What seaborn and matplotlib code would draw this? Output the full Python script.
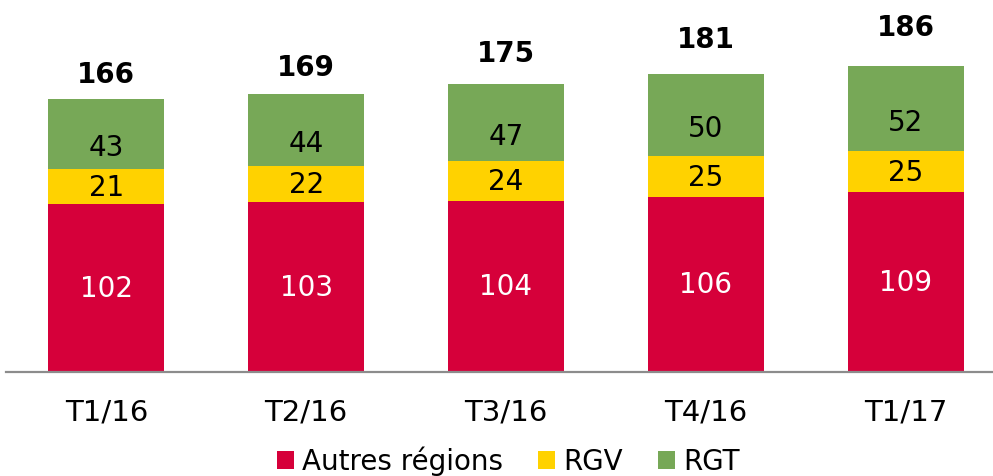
import matplotlib
matplotlib.use("Agg")
import matplotlib.pyplot as plt
from matplotlib.patches import Patch
import seaborn as sns
import pandas as pd
import numpy as np

categories = ["T1/16", "T2/16", "T3/16", "T4/16", "T1/17"]
autres = [102, 103, 104, 106, 109]
rgv = [21, 22, 24, 25, 25]
rgt = [43, 44, 47, 50, 52]
totals = [166, 169, 175, 181, 186]
series_names = ["Autres régions", "RGV", "RGT"]

C_RED = "#D6003A"
C_YEL = "#FFD200"
C_GRN = "#77A857"

sns.set_theme(style="white")
plt.rcParams["font.family"] = ["DejaVu Sans"]
plt.rcParams["text.color"] = "black"

df = pd.DataFrame({"cat": categories, "a": autres, "v": rgv, "t": rgt})
df["cum_v"] = df["a"] + df["v"]
df["cum_t"] = df["cum_v"] + df["t"]

fig = plt.figure(figsize=(9.93, 4.77), dpi=100)
H = 477.0
base = 372.5
ax = fig.add_axes([6.4 / 993, (H - base) / H, (1005.6 - 6.4) / 993, base / H])

bw = 0.58
sns.barplot(data=df, x="cat", y="cum_t", color=C_GRN, width=bw, ax=ax, saturation=1, linewidth=0, errorbar=None)
sns.barplot(data=df, x="cat", y="cum_v", color=C_YEL, width=bw, ax=ax, saturation=1, linewidth=0, errorbar=None)
sns.barplot(data=df, x="cat", y="a", color=C_RED, width=bw, ax=ax, saturation=1, linewidth=0, errorbar=None)

ax.set_xlim(-0.5, 4.5)
ax.set_ylim(0, base / 1.643)
ax.set_xlabel("")
ax.set_ylabel("")
ax.set_yticks([])
for s in ["top", "left", "right"]:
    ax.spines[s].set_visible(False)
ax.spines["bottom"].set_color("#8C8C8C")
ax.spines["bottom"].set_linewidth(1.6)
ax.tick_params(axis="x", length=0, pad=18.5, labelsize=21, labelcolor="black")

for i in range(len(categories)):
    a, v, t, tot = autres[i], rgv[i], rgt[i], totals[i]
    ax.text(i, a / 2, str(a), ha="center", va="center", color="white", fontsize=20)
    ax.text(i, a + v / 2, str(v), ha="center", va="center", color="black", fontsize=20)
    ax.annotate(str(t), (i, a + v + t / 2), xytext=(0, -9.5), textcoords="offset points",
                ha="center", va="center", color="black", fontsize=20)
    ty = tot + 15 + 0.44 * (tot - 166)
    ax.text(i, ty, str(tot), ha="center", va="center", color="black", fontsize=20, fontweight="bold")

handles = [Patch(facecolor=c, edgecolor="none") for c in (C_RED, C_YEL, C_GRN)]
leg = fig.legend(handles, series_names, loc="center", bbox_to_anchor=(0.512, 0.032), ncol=3, frameon=False,
                 fontsize=20, handlelength=0.62, handleheight=0.62, handletextpad=0.3, columnspacing=1.25,
                 borderpad=0, borderaxespad=0)
for txt in leg.get_texts():
    txt.set_color("black")

fig.savefig("out.png", dpi=100)
